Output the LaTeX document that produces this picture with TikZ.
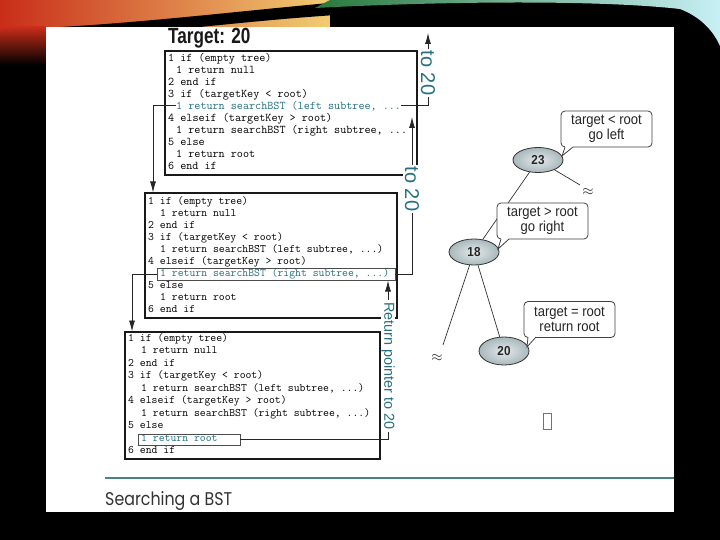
\documentclass[tikz,border=0pt]{standalone}
\usepackage{fontspec}
\usetikzlibrary{arrows.meta,shapes.geometric}
\newfontfamily\tgtfont[FakeStretch=0.78]{Liberation Sans}
\newfontfamily\callfont[FakeStretch=0.9]{Liberation Sans}
\newfontfamily\lblfont{Liberation Sans}
\newfontfamily\capfont{Poppins}
\definecolor{tealc}{RGB}{36,112,128}
\definecolor{lineteal}{RGB}{72,130,136}
\definecolor{ellin}{RGB}{228,234,234}
\definecolor{ellout}{RGB}{168,184,188}
\definecolor{warmA}{RGB}{200,45,25}
\definecolor{warmB}{RGB}{232,140,50}
\definecolor{warmC}{RGB}{244,214,120}
\definecolor{coolA}{RGB}{40,120,60}
\definecolor{coolB}{RGB}{90,200,220}
\definecolor{coolC}{RGB}{200,240,245}
\begin{document}
\begin{tikzpicture}[x=1pt,y=-1pt,
  codebox/.style={draw=black!90, line width=1.8pt, inner sep=0pt},
  cA/.style={anchor=mid west, inner sep=0pt, text=black, font=\ttfamily\fontsize{11.8}{12}\selectfont},
  cB/.style={anchor=mid west, inner sep=0pt, text=black, font=\ttfamily\fontsize{11.4}{12}\selectfont},
  hlbox/.style={draw=black!70, line width=0.7pt, inner sep=0pt},
  conn/.style={draw=black!85, line width=0.8pt},
  arr/.style={conn, -{Latex[length=11pt,width=6pt]}},
  tolbl/.style={rotate=-90, fill=white, text=tealc, inner xsep=2pt, inner ysep=0.5pt, font=\lblfont\fontsize{20}{20}\selectfont},
  retlbl/.style={rotate=-90, fill=white, text=tealc, inner xsep=2pt, inner ysep=0.3pt, font=\lblfont\fontsize{14.4}{14.4}\selectfont},
  tnode/.style={ellipse, draw=black!80, line width=0.8pt, shade, inner color=ellin, outer color=ellout, minimum width=50, minimum height=25, inner sep=0pt, text=black!85, font=\callfont\bfseries\fontsize{13}{13}\selectfont},
  tedge/.style={draw=black!80, line width=0.7pt},
  callout/.style={draw=black!75, line width=0.8pt, fill=white, rounded corners=4pt, minimum width=91, minimum height=36, inner sep=0pt, align=center, text=black!85, font=\callfont\fontsize{14.5}{14.5}\selectfont},
  calline/.style={draw=black!75, line width=0.8pt},
  approxs/.style={inner sep=0pt, text=black!85, font=\fontsize{14}{14}\selectfont}
]
\useasboundingbox (0,0) rectangle (720,540);
% slide background
\fill[black] (0,0) rectangle (720,540);
\shade[left color=warmA, middle color=warmB, right color=warmC] (0,0) rectangle (350,27);
\shade[top color=warmA, bottom color=black] (0,27) rectangle (46,65);
\fill[black] (60,27) .. controls (150,22) and (250,10) .. (340,2) -- (352,0) -- (352,14) .. controls (300,17) and (250,22) .. (200,27) -- cycle;
\fill[black] (330,0) rectangle (720,27);
\shade[left color=coolA, middle color=coolB, right color=coolC] (315,8) .. controls (450,1) and (600,0) .. (680,9) .. controls (698,16) and (712,28) .. (720,46) -- (720,0) -- (330,0) -- cycle;
\fill[white] (46,27) rectangle (674,512);
% caption
\draw[line width=2.5pt, lineteal] (105,478) -- (674,478);
\node[anchor=base west, inner sep=0pt, text=black!80] (cap) at (105,505) {\resizebox{127pt}{14pt}{\capfont Searching a BST}};
% title
\node[anchor=base west, inner sep=0pt, text=black!90] (title) at (168,44) {\tgtfont\bfseries\fontsize{22}{22}\selectfont Target: 20};
% tree
\node[tnode] (n23) at (538,160) {23};
\node[tnode, minimum height=26] (n18) at (474,252) {18};
\node[tnode, minimum height=28] (n20) at (504,351) {20};
\coordinate (s23) at (580,185);
\coordinate (s18) at (443,345);
\draw[tedge] (n23) -- (n18);
\draw[tedge] (n23) -- (s23);
\draw[tedge] (n18) -- (s18);
\draw[tedge] (n18) -- (n20);
\node[approxs] (ap1) at (588,192) {$\approx$};
\node[approxs] (ap2) at (437,358) {$\approx$};
% callouts
\node[callout] (c1) at (606.5,129) {target < root\\go left};
\coordinate (t1a) at (565,147); \coordinate (t1b) at (573,147); \coordinate (t1p) at (562,156);
\fill[white] (565,145.6) -- (t1a) -- (t1p) -- (t1b) -- (573,145.6) -- cycle;
\draw[calline] (t1a) -- (t1p) -- (t1b);
\node[callout] (c2) at (542.5,221) {target > root\\go right};
\coordinate (t2a) at (501,239); \coordinate (t2b) at (509,239); \coordinate (t2p) at (498,249);
\fill[white] (501,237.6) -- (t2a) -- (t2p) -- (t2b) -- (509,237.6) -- cycle;
\draw[calline] (t2a) -- (t2p) -- (t2b);
\node[callout] (c3) at (569.5,319.5) {target = root\\return root};
\coordinate (t3a) at (528,337); \coordinate (t3b) at (536,337); \coordinate (t3p) at (527,347);
\fill[white] (528,335.6) -- (t3a) -- (t3p) -- (t3b) -- (536,335.6) -- cycle;
\draw[calline] (t3a) -- (t3p) -- (t3b);
% missing glyph box
\node[draw=black!55, line width=0.8pt, minimum width=8, minimum height=16, inner sep=0pt] (tofu) at (547.5,421) {};
% code boxes
\node[codebox, minimum width=252, minimum height=124] (box1) at (291,113) {};
\node[codebox, minimum width=252, minimum height=125] (box2) at (271,255.5) {};
\node[codebox, minimum width=255, minimum height=127] (box3) at (252.5,395.5) {};
% box 1 text
\node[cA] (b1l0) at (168,59) {1 if (empty tree)};
\node[cA] (b1l1) at (176,71) {1 return null};
\node[cA] (b1l2) at (168,83) {2 end if};
\node[cA] (b1l3) at (168,95) {3 if (targetKey < root)};
\node[cA, text=tealc] (b1l4) at (176,107) {1 return searchBST (left subtree, ...};
\node[cA] (b1l5) at (168,119) {4 elseif (targetKey > root)};
\node[cA] (b1l6) at (176,131) {1 return searchBST (right subtree, ...};
\node[cA] (b1l7) at (168,143) {5 else};
\node[cA] (b1l8) at (176,155) {1 return root};
\node[cA] (b1l9) at (168,167) {6 end if};
% box 2 text
\node[cB] (b2l0) at (148,202) {1 if (empty tree)};
\node[cB] (b2l1) at (160,214) {1 return null};
\node[cB] (b2l2) at (148,226) {2 end if};
\node[cB] (b2l3) at (148,238) {3 if (targetKey < root)};
\node[cB] (b2l4) at (160,250) {1 return searchBST (left subtree, ...)};
\node[cB] (b2l5) at (148,262) {4 elseif (targetKey > root)};
\node[cB, text=tealc] (b2l6) at (160,274) {1 return searchBST (right subtree, ...)};
\node[cB] (b2l7) at (148,286) {5 else};
\node[cB] (b2l8) at (160,298) {1 return root};
\node[cB] (b2l9) at (148,310) {6 end if};
\node[hlbox, minimum width=238, minimum height=12] (h2) at (276,274) {};
% box 3 text
\node[cB] (b3l0) at (128,339) {1 if (empty tree)};
\node[cB] (b3l1) at (141,351.5) {1 return null};
\node[cB] (b3l2) at (128,364) {2 end if};
\node[cB] (b3l3) at (128,376.5) {3 if (targetKey < root)};
\node[cB] (b3l4) at (141,389) {1 return searchBST (left subtree, ...)};
\node[cB] (b3l5) at (128,401.5) {4 elseif (targetKey > root)};
\node[cB] (b3l6) at (141,414) {1 return searchBST (right subtree, ...)};
\node[cB] (b3l7) at (128,426.5) {5 else};
\node[cB, text=tealc] (b3l8) at (141,439) {1 return root};
\node[cB] (b3l9) at (128,451.5) {6 end if};
\node[hlbox, minimum width=102, minimum height=11] (h3) at (189,439.5) {};
% connectors
\coordinate (a2) at (153,192.5);
\coordinate (a3) at (132,331.5);
\coordinate (a4) at (388,280.5);
\coordinate (a5) at (412,117);
\coordinate (a6) at (428,33);
\draw[arr] (b1l4.west) -| (a2);
\draw[arr] (h2.west) -| (a3);
\draw[arr] (h3.east) -| (a4);
\draw[arr] (h2.east) -| (a5);
\draw[arr] (b1l4.east) -| (a6);
\node[retlbl] (lr) at (388,366) {Return pointer to 20};
\node[tolbl, inner ysep=2pt] (l2) at (412,189) {to 20};
\node[tolbl] (l1) at (428,73) {to 20};
\end{tikzpicture}
\end{document}
